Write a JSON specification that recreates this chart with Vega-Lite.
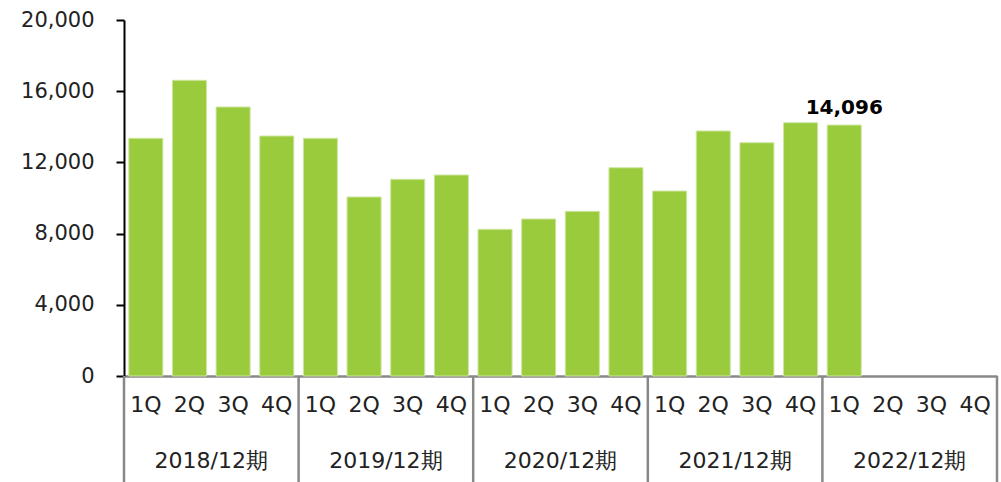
{
  "$schema": "https://vega.github.io/schema/vega-lite/v6.json",
  "autosize": "none",
  "width": 873,
  "height": 356,
  "padding": {"left": 124, "top": 20, "right": 4, "bottom": 106},
  "background": "white",
  "config": {"view": {"stroke": null}, "font": "DejaVu Sans"},
  "data": {
    "values": [
      {"key": "2018|1Q", "year": "2018/12期", "q": "1Q", "value": 13354},
      {"key": "2018|2Q", "year": "2018/12期", "q": "2Q", "value": 16612},
      {"key": "2018|3Q", "year": "2018/12期", "q": "3Q", "value": 15112},
      {"key": "2018|4Q", "year": "2018/12期", "q": "4Q", "value": 13483},
      {"key": "2019|1Q", "year": "2019/12期", "q": "1Q", "value": 13354},
      {"key": "2019|2Q", "year": "2019/12期", "q": "2Q", "value": 10056},
      {"key": "2019|3Q", "year": "2019/12期", "q": "3Q", "value": 11050},
      {"key": "2019|4Q", "year": "2019/12期", "q": "4Q", "value": 11292},
      {"key": "2020|1Q", "year": "2020/12期", "q": "1Q", "value": 8240},
      {"key": "2020|2Q", "year": "2020/12期", "q": "2Q", "value": 8820},
      {"key": "2020|3Q", "year": "2020/12期", "q": "3Q", "value": 9250},
      {"key": "2020|4Q", "year": "2020/12期", "q": "4Q", "value": 11700},
      {"key": "2021|1Q", "year": "2021/12期", "q": "1Q", "value": 10390},
      {"key": "2021|2Q", "year": "2021/12期", "q": "2Q", "value": 13764},
      {"key": "2021|3Q", "year": "2021/12期", "q": "3Q", "value": 13105},
      {"key": "2021|4Q", "year": "2021/12期", "q": "4Q", "value": 14230},
      {"key": "2022|1Q", "year": "2022/12期", "q": "1Q", "value": 14096, "label": "14,096"},
      {"key": "2022|2Q", "year": "2022/12期", "q": "2Q", "value": null},
      {"key": "2022|3Q", "year": "2022/12期", "q": "3Q", "value": null},
      {"key": "2022|4Q", "year": "2022/12期", "q": "4Q", "value": null}
    ]
  },
  "layer": [
    {
      "mark": {"type": "bar", "color": "#9ACB3C", "stroke": "#cde6a0", "strokeWidth": 1},
      "encoding": {
        "x": {
          "field": "key", "type": "nominal", "sort": null,
          "scale": {
            "domain": ["2018|1Q","2018|2Q","2018|3Q","2018|4Q","2019|1Q","2019|2Q","2019|3Q","2019|4Q","2020|1Q","2020|2Q","2020|3Q","2020|4Q","2021|1Q","2021|2Q","2021|3Q","2021|4Q","2022|1Q","2022|2Q","2022|3Q","2022|4Q"],
            "paddingInner": 0.22, "paddingOuter": 0.11
          },
          "axis": {
            "title": null, "labelAngle": 0,
            "labelExpr": "split(datum.value,'|')[1]",
            "labelFont": "DejaVu Sans", "labelFontSize": 22, "labelColor": "#222",
            "labelOverlap": false, "labelBound": false,
            "ticks": false, "tickSize": 0, "labelPadding": 18,
            "domainColor": "#888", "domainWidth": 2.5
          }
        },
        "y": {
          "field": "value", "type": "quantitative",
          "scale": {"domain": [0, 20000]},
          "axis": {
            "title": null, "values": [0, 4000, 8000, 12000, 16000, 20000],
            "format": ",d", "labelFont": "DejaVu Sans", "labelFontSize": 21, "labelColor": "#222",
            "domainColor": "#000", "domainWidth": 2, "tickColor": "#000", "tickWidth": 2, "tickSize": 8,
            "labelPadding": 22, "grid": false
          }
        }
      }
    },
    {
      "mark": {"type": "text", "font": "DejaVu Sans", "fontWeight": "bold", "fontSize": 20, "color": "#000", "baseline": "alphabetic", "dy": -11},
      "transform": [{"filter": "datum.label != null"}],
      "encoding": {
        "x": {"field": "key", "type": "nominal", "sort": null, "bandPosition": 0.5},
        "y": {"field": "value", "type": "quantitative"},
        "text": {"field": "label"}
      }
    },
    {
      "mark": {"type": "text", "font": "DejaVu Sans", "fontSize": 22, "color": "#222", "baseline": "middle", "align": "center"},
      "transform": [{"filter": "datum.q == '2Q'"}],
      "encoding": {
        "x": {"field": "key", "type": "nominal", "sort": null, "bandPosition": 1.141},
        "y": {"datum": -4800},
        "text": {"field": "year"}
      }
    },
    {
      "mark": {"type": "rule", "color": "#888", "strokeWidth": 2.5},
      "transform": [{"filter": "datum.q == '1Q'"}],
      "encoding": {
        "x": {"field": "key", "type": "nominal", "sort": null, "bandPosition": -0.141},
        "y": {"datum": 0},
        "y2": {"datum": -6500}
      }
    },
    {
      "mark": {"type": "rule", "color": "#888", "strokeWidth": 2.5},
      "transform": [{"filter": "datum.key == '2022|4Q'"}],
      "encoding": {
        "x": {"field": "key", "type": "nominal", "sort": null, "bandPosition": 1.141},
        "y": {"datum": 0},
        "y2": {"datum": -6500}
      }
    }
  ]
}
